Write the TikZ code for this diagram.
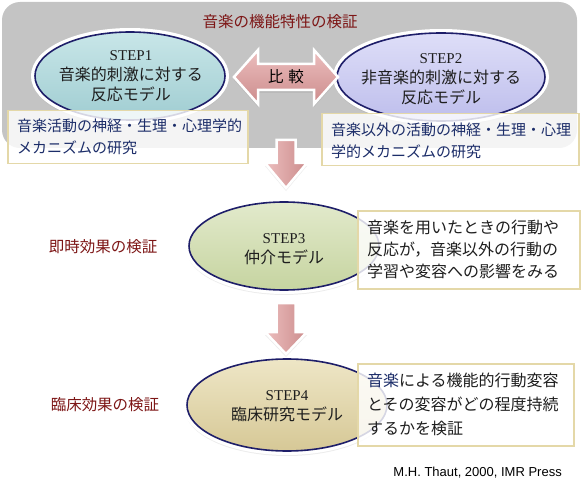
\documentclass[tikz,border=0pt]{standalone}
\usepackage{fontspec}
\setmainfont{Liberation Serif}
\newfontfamily\jp{Noto Sans CJK JP}
\newfontfamily\crfont{Liberation Sans}
\usetikzlibrary{shapes.geometric,shadows}
\definecolor{bggray}{RGB}{196,196,196}
\definecolor{navyline}{RGB}{30,30,105}
\definecolor{tanline}{RGB}{228,216,168}
\definecolor{darkred}{RGB}{125,22,22}
\definecolor{navytxt}{RGB}{28,45,105}
\definecolor{boxtxt}{RGB}{30,30,30}
\definecolor{tealtop}{RGB}{200,230,232}
\definecolor{tealbot}{RGB}{160,205,210}
\definecolor{lavtop}{RGB}{222,222,248}
\definecolor{lavbot}{RGB}{190,190,236}
\definecolor{greentop}{RGB}{226,234,204}
\definecolor{greenbot}{RGB}{198,212,160}
\definecolor{sandtop}{RGB}{238,230,198}
\definecolor{sandbot}{RGB}{214,200,150}
\definecolor{pinktop}{RGB}{236,190,190}
\definecolor{pinkbot}{RGB}{204,140,140}
\newcommand{\stpf}{\rmfamily\fontsize{15}{20}\selectfont}
\begin{document}
\begin{tikzpicture}[x=1pt,y=-1pt,
  stepell/.style={ellipse, inner sep=0pt,
    drop shadow={opacity=0.15, shadow xshift=0pt, shadow yshift=-4pt, shadow scale=1.02},
    preaction={draw=white, line width=8pt},
    draw=navyline, line width=1.6pt},
  steptxt/.style={align=center, inner sep=0pt, text=boxtxt, font=\jp\fontsize{16}{20}\selectfont},
  infobox/.style={draw=tanline, line width=1.5pt, fill=white, fill opacity=0.82,
    text opacity=1, inner sep=0pt, anchor=north west},
  boxtext/.style={align=left, inner sep=0pt, anchor=west},
  sidelabel/.style={inner sep=0pt, text=darkred, font=\jp\fontsize{15.5}{19}\selectfont},
  blockarrow/.style={draw=white, line width=2.5pt, line join=miter,
    drop shadow={opacity=0.15, shadow xshift=0pt, shadow yshift=-3pt}},
]
\useasboundingbox (0,0) rectangle (582,487);
\fill[bggray, rounded corners=18pt] (2,2) rectangle (577,148);

\node[sidelabel] (title) at (280,22) {音楽の機能特性の検証};

% ellipses
\node[stepell, top color=tealtop, bottom color=tealbot, minimum width=190, minimum height=88] (s1) at (130,76) {};
\node[steptxt] (s1t) at (131,76) {{\stpf STEP1}\\音楽的刺激に対する\\反応モデル};
\node[stepell, top color=lavtop, bottom color=lavbot, minimum width=208, minimum height=88] (s2) at (441,77) {};
\node[steptxt] (s2t) at (441,79) {{\stpf STEP2}\\非音楽的刺激に対する\\反応モデル};
\node[stepell, top color=greentop, bottom color=greenbot, minimum width=190, minimum height=88] (s3) at (284,246) {};
\node[steptxt] (s3t) at (284,249) {{\stpf STEP3}\\仲介モデル};
\node[stepell, top color=sandtop, bottom color=sandbot, minimum width=200, minimum height=92] (s4) at (287,405) {};
\node[steptxt] (s4t) at (287,406) {{\stpf STEP4}\\臨床研究モデル};

% info boxes
\node[infobox, minimum width=240, minimum height=53] (b1) at (7,110) {};
\node[boxtext, text=navytxt, font=\jp\fontsize{15}{22}\selectfont] (b1t) at ([xshift=10pt]b1.west) {音楽活動の神経・生理・心理学的\\メカニズムの研究};
\node[infobox, minimum width=257, minimum height=52] (b2) at (321,113) {};
\node[boxtext, text=navytxt, font=\jp\fontsize{15}{22}\selectfont] (b2t) at ([xshift=10pt,yshift=-1pt]b2.west) {音楽以外の活動の神経・生理・心理\\学的メカニズムの研究};
\node[infobox, minimum width=222, minimum height=78] (b3) at (357,210) {};
\node[boxtext, text=boxtxt, font=\jp\fontsize{16}{22}\selectfont] (b3t) at ([xshift=10pt]b3.west) {音楽を用いたときの行動や\\反応が，音楽以外の行動の\\学習や変容への影響をみる};
\node[infobox, minimum width=216, minimum height=82] (b4) at (357,363) {};
\node[boxtext, text=boxtxt, font=\jp\fontsize{16}{24}\selectfont] (b4t) at ([xshift=10pt]b4.west) {\textcolor{navytxt}{音楽}による機能的行動変容\\とその変容がどの程度持続\\するかを検証};

% side labels
\node[sidelabel] (l3) at (103,247) {即時効果の検証};
\node[sidelabel] (l4) at (105,405) {臨床効果の検証};

% block arrows
\path[blockarrow, top color=pinktop, bottom color=pinkbot]
  (234,77) -- (258,50) -- (258,64) -- (314,64) -- (314,50) -- (338,77)
  -- (314,104) -- (314,90) -- (258,90) -- (258,104) -- cycle;
\node[inner sep=0pt, font=\jp\fontsize{15.5}{19}\selectfont] (cmp) at (286,77) {比\hspace{5pt}較};
\path[blockarrow, left color=pinktop, right color=pinkbot]
  (276.5,140) -- (295.5,140) -- (295.5,163) -- (307,163) -- (286,188)
  -- (265,163) -- (276.5,163) -- cycle;
\path[blockarrow, left color=pinktop, right color=pinkbot]
  (276.5,303) -- (295.5,303) -- (295.5,332) -- (307,332) -- (286,354)
  -- (265,332) -- (276.5,332) -- cycle;

\node[anchor=east, inner sep=0pt, font=\crfont\fontsize{13}{15}\selectfont] (cr) at (562,473) {M.H. Thaut, 2000, IMR Press};
\end{tikzpicture}
\end{document}
